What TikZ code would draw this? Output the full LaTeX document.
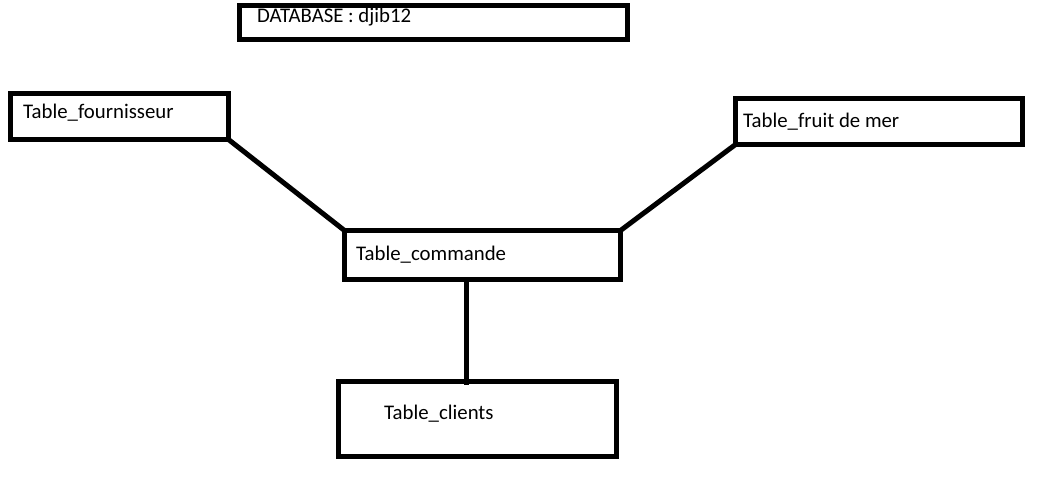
\documentclass[tikz,border=0pt]{standalone}
\usepackage{fontspec}
\setmainfont{Carlito}
\usetikzlibrary{calc}
\begin{document}
\begin{tikzpicture}[x=1pt,y=-1pt,
  tbox/.style={draw=black,line width=5pt,rectangle,inner sep=0pt,outer sep=0pt},
  ttxt/.style={anchor=base west,inner sep=0pt,font=\fontsize{20.8}{24}\selectfont},
  link/.style={draw=black,line width=5pt}]
\useasboundingbox (0,0) rectangle (1043,492);
\node[tbox,minimum width=388pt,minimum height=34pt] (db) at (433.5,23) {};
\node[tbox,minimum width=218pt,minimum height=46pt] (fou) at (119.5,116.5) {};
\node[tbox,minimum width=287pt,minimum height=46pt] (fru) at (879,121.5) {};
\node[tbox,minimum width=276pt,minimum height=49pt] (com) at (482.5,255) {};
\node[tbox,minimum width=278pt,minimum height=75pt] (cli) at (477.5,419) {};
\node[ttxt] (dbt) at (257,23) {DATABASE : djib12};
\node[ttxt] (fout) at (23,118) {Table\_fournisseur};
\node[ttxt] (frut) at (743,128) {Table\_fruit de mer};
\node[ttxt] (comt) at (356,260) {Table\_commande};
\node[ttxt] (clit) at (384,419) {Table\_clients};
\coordinate (v) at (466,0);
\coordinate (vend) at (466,385);
\draw[link] (fou.south east) -- (com.north west);
\draw[link] (fru.south west) -- (com.north east);
\draw[link] (com.south -| v) -- (vend);
\end{tikzpicture}
\end{document}
